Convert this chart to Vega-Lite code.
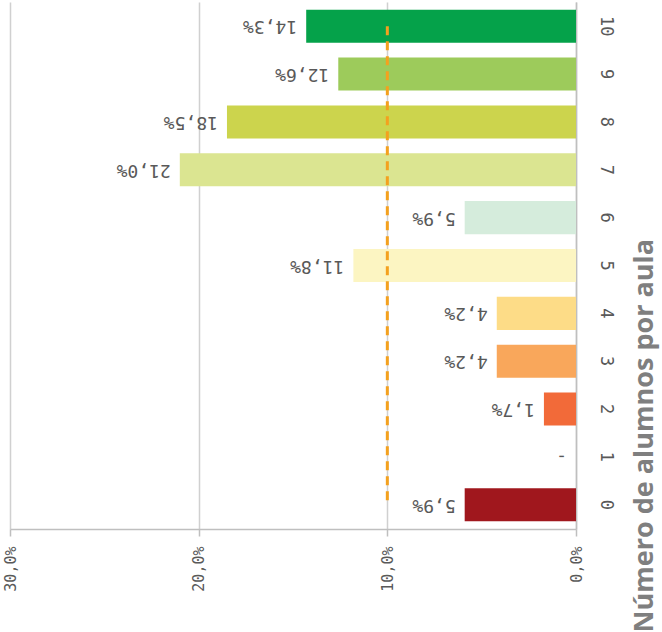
{
  "$schema": "https://vega.github.io/schema/vega-lite/v6.json",
  "autosize": "none",
  "width": 566,
  "height": 527,
  "padding": {"left": 10, "top": 2, "right": 86, "bottom": 103},
  "background": "white",
  "config": {
    "view": {"stroke": null},
    "scale": {"bandPaddingInner": 0.31, "bandPaddingOuter": 0.16}
  },
  "datasets": {
    "bars": [
      {"alumnos": "10", "pct": 0.143, "label": "14,3%"},
      {"alumnos": "9", "pct": 0.126, "label": "12,6%"},
      {"alumnos": "8", "pct": 0.185, "label": "18,5%"},
      {"alumnos": "7", "pct": 0.210, "label": "21,0%"},
      {"alumnos": "6", "pct": 0.059, "label": "5,9%"},
      {"alumnos": "5", "pct": 0.118, "label": "11,8%"},
      {"alumnos": "4", "pct": 0.042, "label": "4,2%"},
      {"alumnos": "3", "pct": 0.042, "label": "4,2%"},
      {"alumnos": "2", "pct": 0.017, "label": "1,7%"},
      {"alumnos": "1", "pct": 0.0, "label": "-"},
      {"alumnos": "0", "pct": 0.059, "label": "5,9%"}
    ],
    "media": [
      {"pct": 0.10, "desde": "10", "hasta": "0"}
    ]
  },
  "encoding": {
    "y": {
      "field": "alumnos",
      "type": "nominal",
      "scale": {"domain": ["10", "9", "8", "7", "6", "5", "4", "3", "2", "1", "0"]},
      "axis": {
        "orient": "right",
        "title": "Número de alumnos por aula",
        "titleFont": "Open Sans",
        "titleFontWeight": "bold",
        "titleFontSize": 27,
        "titleColor": "#7F7F7F",
        "titleAngle": -90,
        "titleAlign": "left",
        "titleBaseline": "middle",
        "titleX": 68,
        "titleY": 630,
        "labelAngle": 90,
        "labelAlign": "center",
        "labelBaseline": "bottom",
        "labelPadding": 20,
        "labelFont": "DejaVu Sans Mono",
        "labelFontSize": 17,
        "labelColor": "#595959",
        "ticks": false,
        "domain": true,
        "domainColor": "#BFBFBF",
        "domainWidth": 1.5
      }
    }
  },
  "layer": [
    {
      "data": {"name": "bars"},
      "mark": {"type": "bar"},
      "encoding": {
        "x": {
          "field": "pct",
          "type": "quantitative",
          "scale": {"domain": [0, 0.3], "reverse": true, "nice": false},
          "axis": {
            "values": [0, 0.1, 0.2, 0.3],
            "labelExpr": "replace(format(datum.value, '.1%'), '.', ',')",
            "title": null,
            "labelAngle": -90,
            "labelAlign": "right",
            "labelBaseline": "middle",
            "labelPadding": 10,
            "labelFont": "DejaVu Sans Mono",
            "labelFontSize": 15,
            "labelColor": "#595959",
            "grid": true,
            "gridColor": "#D0D0D0",
            "gridWidth": 1.5,
            "domainColor": "#BFBFBF",
            "domainWidth": 1.5,
            "tickColor": "#BFBFBF",
            "tickSize": 7,
            "tickWidth": 1.5
          }
        },
        "color": {
          "field": "alumnos",
          "type": "nominal",
          "legend": null,
          "scale": {
            "domain": ["10", "9", "8", "7", "6", "5", "4", "3", "2", "1", "0"],
            "range": ["#05A24A", "#9DCB5B", "#CCD44D", "#DBE591", "#D5ECDC", "#FCF5C2", "#FDDC87", "#F9A75B", "#F26A39", "#FFFFFF", "#A0171D"]
          }
        }
      }
    },
    {
      "data": {"name": "bars"},
      "mark": {"type": "text", "angle": 180, "align": "left", "baseline": "middle", "xOffset": -9, "font": "DejaVu Sans Mono", "fontSize": 18, "color": "#595959"},
      "encoding": {
        "x": {"field": "pct", "type": "quantitative"},
        "text": {"field": "label"}
      }
    },
    {
      "data": {"name": "media"},
      "mark": {"type": "rule", "color": "#F4A11E", "strokeWidth": 3, "strokeDash": [9, 6]},
      "encoding": {
        "x": {"field": "pct", "type": "quantitative"},
        "y": {"field": "desde", "type": "nominal"},
        "y2": {"field": "hasta"}
      }
    }
  ]
}
